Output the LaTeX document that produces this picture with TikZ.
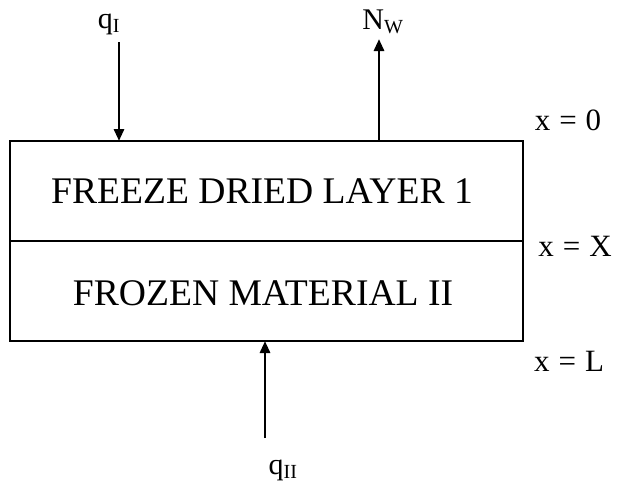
\documentclass[tikz,border=0pt]{standalone}
\usepackage{fontspec}
\setmainfont{Liberation Serif}
\usetikzlibrary{arrows.meta}
\tikzset{
  flux/.style={line width=2.8pt,-{Triangle[length=12pt,width=10pt]}},
  boxline/.style={line width=1.5pt},
  layertext/.style={font=\fontsize{37.6}{42}\selectfont,inner sep=0pt},
  poslabel/.style={font=\fontsize{31}{34}\selectfont,inner sep=0pt},
  fluxlabel/.style={font=\fontsize{30}{34}\selectfont,inner sep=0pt}
}
\newcommand{\subfx}[1]{\textsubscript{\fontsize{20}{22}\selectfont #1}}
\newcommand{\eqgap}{\hspace{9pt}}
\begin{document}
\begin{tikzpicture}[x=1pt,y=-1pt]
\useasboundingbox (0,0) rectangle (617,498);
\coordinate (tl) at (10,141);
\coordinate (br) at (523,341);
\draw[boxline] (tl) rectangle (br);
\coordinate (ml) at (10,241);
\coordinate (mr) at (523,241);
\draw[boxline] (ml) -- (mr);
\node[layertext] (l1) at (262,191) {FREEZE DRIED LAYER 1};
\node[layertext] (l2) at (263,293) {FROZEN MATERIAL II};
% fluxes
\node[fluxlabel] (qI) at (109,24) {q\subfx{I}};
\coordinate (qIs) at (119,42);
\coordinate (qIe) at (119,141);
\draw[flux] (qIs) -- (qIe);
\node[fluxlabel] (NW) at (383,22) {N\subfx{W}};
\coordinate (NWs) at (379,141);
\coordinate (NWe) at (379,39);
\draw[flux] (NWs) -- (NWe);
\node[fluxlabel] (qII) at (283,470) {q\subfx{II}};
\coordinate (qIIs) at (265,438);
\coordinate (qIIe) at (265,341);
\draw[flux] (qIIs) -- (qIIe);
% positions
\node[poslabel] (x0) at (568,120) {x\eqgap=\eqgap0};
\node[poslabel] (xX) at (575,246) {x\eqgap=\eqgap X};
\node[poslabel] (xL) at (569,361) {x\eqgap=\eqgap L};
\end{tikzpicture}
\end{document}
